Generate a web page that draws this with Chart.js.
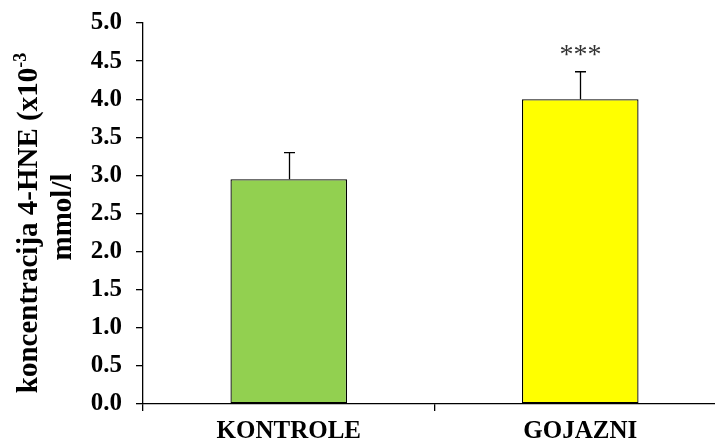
<!DOCTYPE html>
<html>
<head>
<meta charset="utf-8">
<script src="https://cdn.jsdelivr.net/npm/chart.js@4/dist/chart.umd.min.js"></script>
<style>
  html, body { margin: 0; padding: 0; background: #fff; overflow: hidden; }
  #wrap { width: 730px; height: 443px; }
</style>
</head>
<body>
<div id="wrap"><canvas id="c" width="730" height="443"></canvas></div>
<script>
// Groups and measured 4-HNE concentrations (x10^-3 mmol/l)
const categories = ['KONTROLE', 'GOJAZNI'];
const means = [2.95, 4.0];
const sdUpper = [0.35, 0.36];
const significance = ['', '***'];
const barColors = ['#92D050', '#FFFF00'];
const yTicks = [0, 0.5, 1, 1.5, 2, 2.5, 3, 3.5, 4, 4.5, 5];

const SERIF = '"Liberation Serif", "Times New Roman", serif';

// Upward error whiskers plus significance stars above them
const errorBars = {
  id: 'errorBars',
  afterDatasetsDraw(chart) {
    const { ctx, scales: { x, y } } = chart;
    ctx.save();
    ctx.strokeStyle = '#000';
    ctx.lineWidth = 1.3;
    means.forEach((m, i) => {
      const cx = Math.round(x.getPixelForValue(i)) + 0.5;
      const yb = y.getPixelForValue(m);
      const yt = y.getPixelForValue(m + sdUpper[i]);
      ctx.beginPath();
      ctx.moveTo(cx, yb);
      ctx.lineTo(cx, yt);
      ctx.moveTo(cx - 5.5, yt);
      ctx.lineTo(cx + 5.5, yt);
      ctx.stroke();
      if (significance[i]) {
        ctx.fillStyle = '#333';
        ctx.font = '28px ' + SERIF;
        ctx.textAlign = 'center';
        ctx.textBaseline = 'middle';
        ctx.fillText(significance[i], cx, yt - 16);
      }
    });
    ctx.restore();
  }
};

// Two-line rotated axis title with a superscript exponent
const yTitle = {
  id: 'yTitle',
  afterDraw(chart) {
    const { ctx } = chart;
    const mainFont = 'bold 29px ' + SERIF;
    const supFont = 'bold 18px ' + SERIF;
    const main = 'koncentracija 4-HNE (x10';
    const sup = '-3';
    ctx.save();
    ctx.fillStyle = '#000';
    ctx.textBaseline = 'alphabetic';
    ctx.font = mainFont;
    const wMain = ctx.measureText(main).width;
    ctx.font = supFont;
    const wSup = ctx.measureText(sup).width;
    const total = wMain + wSup;
    ctx.translate(37, 223);
    ctx.rotate(-Math.PI / 2);
    ctx.textAlign = 'left';
    ctx.font = mainFont;
    ctx.fillText(main, -total / 2, 0);
    ctx.font = supFont;
    ctx.fillText(sup, -total / 2 + wMain, -11);
    ctx.restore();

    ctx.save();
    ctx.fillStyle = '#000';
    ctx.translate(71, 217);
    ctx.rotate(-Math.PI / 2);
    ctx.font = mainFont;
    ctx.textAlign = 'center';
    ctx.textBaseline = 'alphabetic';
    ctx.fillText('mmol/l', 0, 0);
    ctx.restore();
  }
};

new Chart(document.getElementById('c'), {
  type: 'bar',
  data: {
    labels: categories,
    datasets: [{
      data: means,
      backgroundColor: barColors,
      borderColor: '#000',
      borderWidth: 1.3,
      borderSkipped: false,
      categoryPercentage: 1,
      barPercentage: 0.4
    }]
  },
  options: {
    responsive: false,
    animation: false,
    layout: { padding: { top: 23, right: 4, left: 0, bottom: 0 } },
    plugins: { legend: { display: false }, tooltip: { enabled: false } },
    scales: {
      x: {
        offset: true,
        grid: {
          offset: true,
          drawOnChartArea: false,
          drawTicks: true,
          tickLength: 7,
          color: '#000',
          lineWidth: 1.3
        },
        border: { color: '#000', width: 1.3 },
        ticks: {
          color: '#000',
          font: { family: SERIF, size: 25, weight: 'bold' },
          padding: 6
        },
        afterFit(scale) {
          scale.height = 39;
          scale.paddingLeft = 0;
          scale.paddingRight = 0;
        }
      },
      y: {
        min: 0,
        max: 5,
        afterBuildTicks(scale) { scale.ticks = yTicks.map(v => ({ value: v })); },
        grid: {
          drawOnChartArea: false,
          drawTicks: true,
          tickLength: 7,
          color: '#000',
          lineWidth: 1.3
        },
        border: { color: '#000', width: 1.3 },
        ticks: {
          color: '#000',
          font: { family: SERIF, size: 25, weight: 'bold' },
          padding: 14,
          callback: v => Number(v).toFixed(1)
        },
        afterFit(scale) {
          scale.width = 143;
          scale.paddingTop = 0;
          scale.paddingBottom = 0;
        }
      }
    }
  },
  plugins: [errorBars, yTitle]
});
</script>
</body>
</html>
